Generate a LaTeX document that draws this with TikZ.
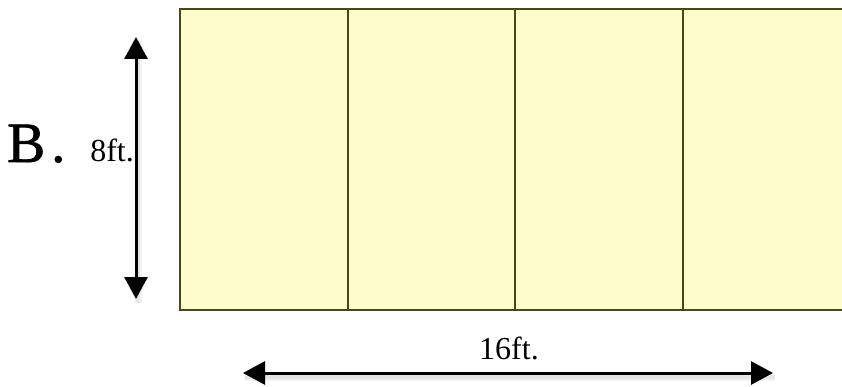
\documentclass[tikz,border=0pt]{standalone}
\usepackage{fontspec}
\setmainfont{Liberation Serif}
\newfontfamily\bigfont[FakeBold=1.2]{Liberation Serif}
\usetikzlibrary{arrows.meta}
\definecolor{cellfill}{HTML}{FFFCCC}
\definecolor{celledge}{HTML}{4A4718}
\tikzset{
  cell/.style={fill=cellfill,draw=celledge,line width=2pt},
  dimarrow/.style={line width=3pt,{Triangle[length=22pt,width=23pt]}-{Triangle[length=22pt,width=23pt]},
    preaction={draw=black!40,line width=7pt,opacity=0.12,transform canvas={shift={(2pt,-4pt)}},-},
    preaction={draw=black!40,line width=4pt,opacity=0.15,transform canvas={shift={(2pt,-4pt)}},-}},
  lbl/.style={font=\fontsize{32}{36}\selectfont,inner sep=0pt}
}
\begin{document}
\begin{tikzpicture}[x=1pt,y=-1pt]
\useasboundingbox (0,0) rectangle (842,387);
\clip (0,0) rectangle (842,387);
\draw[cell] (180,9) rectangle (348,310);
\draw[cell] (348,9) rectangle (515,310);
\draw[cell] (515,9) rectangle (683,310);
\draw[cell] (683,9) rectangle (851,310);
\coordinate (vt) at (136,37);
\coordinate (vb) at (136,299);
\coordinate (hl) at (243,373);
\coordinate (hr) at (773,373);
\draw[dimarrow] (vt) -- (vb);
\draw[dimarrow] (hl) -- (hr);
\node[anchor=base west,inner sep=0pt,font=\bigfont\fontsize{57}{62}\selectfont] (B) at (7,162) {B\kern6pt.};
\node[lbl,anchor=base east] (h) at (134,162) {8ft.};
\node[lbl,anchor=base] (w) at (509,359) {16ft.};
\end{tikzpicture}
\end{document}
